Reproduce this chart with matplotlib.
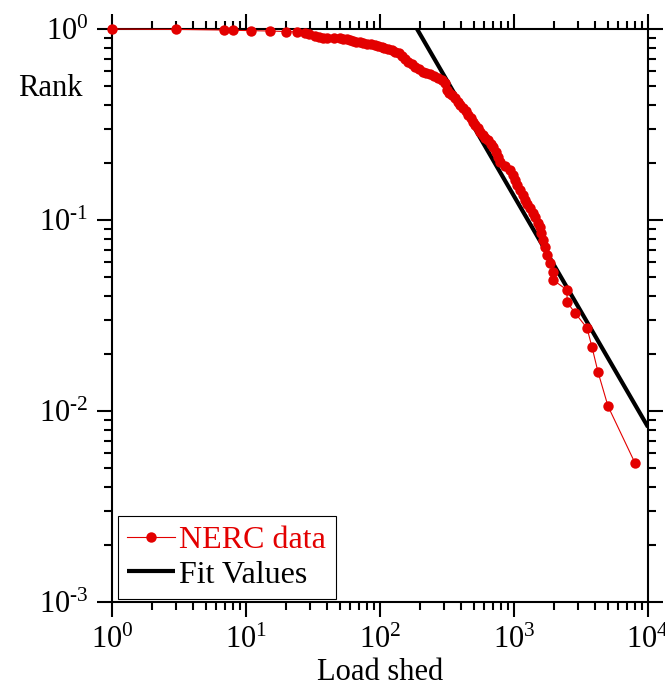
import matplotlib
matplotlib.use("Agg")
import matplotlib.pyplot as plt
from matplotlib.ticker import LogLocator, FuncFormatter, NullFormatter
import numpy as np

plt.rcParams['font.family'] = ['Liberation Serif', 'DejaVu Serif']
plt.rcParams['mathtext.fontset'] = 'custom'
plt.rcParams['mathtext.rm'] = 'Liberation Serif'
plt.rcParams['mathtext.it'] = 'Liberation Serif:italic'
plt.rcParams['mathtext.bf'] = 'Liberation Serif:bold'

# NERC data: load shed vs rank
load_shed = [1.0, 3.0, 6.85, 8.0, 10.9, 15.1, 19.9, 24.0, 27.6, 29.5, 32.7, 35,
             37.6, 40.2, 45, 50.3, 53, 56.7, 60, 62.9, 66, 71.0, 75, 80.0, 85,
             91.8, 97, 103.5, 108, 114.8, 122, 129.5, 138, 146, 154, 162, 172,
             182, 195, 209, 222, 236, 252, 271, 288, 306, 316, 330, 345, 362,
             382, 398, 416, 435, 454, 474, 494, 516, 539, 562, 587, 612, 640,
             668, 697, 728, 760, 787, 860, 934, 975, 1017, 1060, 1109, 1160,
             1208, 1260, 1316, 1375, 1435, 1500, 1563, 1600, 1646, 1700, 1762,
             1857, 1954, 1960, 2488, 2490, 2853, 3505, 3820, 4236, 5029, 8000]
rank = [1.0, 0.995, 0.988, 0.985, 0.98, 0.976, 0.97, 0.965, 0.953, 0.94, 0.923, 0.91,
        0.90, 0.897, 0.895, 0.892, 0.89, 0.886, 0.875, 0.865, 0.86, 0.855, 0.845,
        0.838, 0.83, 0.824, 0.815, 0.808, 0.797, 0.786, 0.773, 0.761, 0.745, 0.725,
        0.70, 0.674, 0.655, 0.635, 0.615, 0.598, 0.59, 0.581, 0.567, 0.554, 0.538,
        0.521, 0.480, 0.465, 0.451, 0.433, 0.415, 0.40, 0.386, 0.37, 0.355, 0.34,
        0.326, 0.314, 0.303, 0.29, 0.279, 0.27, 0.262, 0.25, 0.241, 0.228, 0.214,
        0.201, 0.192, 0.183, 0.172, 0.162, 0.152, 0.1436, 0.135, 0.127, 0.121,
        0.1156, 0.109, 0.1037, 0.097, 0.0919, 0.085, 0.0786, 0.072, 0.0656,
        0.0596, 0.0534, 0.0485, 0.043, 0.0372, 0.0326, 0.0272, 0.0216, 0.016,
        0.0106, 0.00534]

# Fit values (power law line)
fit_x = [189, 10000]
fit_y = [1.0, 0.00824]

red = '#e30000'

fig = plt.figure(figsize=(6.65, 6.87), dpi=100)
ax = fig.add_axes([112/665, 1-602/687, (648-112)/665, (602-29)/687])

fit_line, = ax.plot(fit_x, fit_y, color='black', lw=3.0, zorder=2, solid_capstyle='butt')
data_line, = ax.plot(load_shed, rank, color=red, lw=0.8, marker='o', markersize=7.5,
                     markeredgewidth=0, zorder=3, clip_on=False)

ax.set_xscale('log')
ax.set_yscale('log')
ax.set_xlim(1, 1e4)
ax.set_ylim(1e-3, 1)


def fmt(v, pos):
    e = int(round(np.log10(v)))
    if e < 0:
        return r'$\mathdefault{10^{\text{-}%d}}$' % (-e)
    return r'$\mathdefault{10^{%d}}$' % e


ax.xaxis.set_major_locator(LogLocator(base=10, numticks=10))
ax.yaxis.set_major_locator(LogLocator(base=10, numticks=10))
ax.xaxis.set_minor_locator(LogLocator(base=10, subs=range(2, 10), numticks=20))
ax.yaxis.set_minor_locator(LogLocator(base=10, subs=range(2, 10), numticks=20))
ax.xaxis.set_major_formatter(FuncFormatter(fmt))
ax.yaxis.set_major_formatter(FuncFormatter(fmt))
ax.xaxis.set_minor_formatter(NullFormatter())
ax.yaxis.set_minor_formatter(NullFormatter())

ax.tick_params(which='both', direction='out', top=True, right=True, width=1.5,
               labelsize=22, colors='black')
ax.tick_params(which='major', length=11, pad=6)
ax.tick_params(which='minor', length=6)
for s in ax.spines.values():
    s.set_linewidth(1.5)

ax.set_xlabel('Load shed', fontsize=22, labelpad=2)
ax.text(-0.055, 0.897, 'Rank', transform=ax.transAxes, fontsize=22,
        ha='right', va='center')

leg = ax.legend([data_line, fit_line], ['NERC data', 'Fit Values'],
                loc='lower left', bbox_to_anchor=(0.011, 0.005), borderaxespad=0,
                fontsize=23, frameon=True, fancybox=False, edgecolor='black',
                framealpha=1, handlelength=1.5, handletextpad=0.12,
                labelspacing=0.15, borderpad=0.3, numpoints=1)
leg.get_frame().set_linewidth(0.8)
leg.get_texts()[0].set_color(red)

fig.savefig('out.png', dpi=100)
